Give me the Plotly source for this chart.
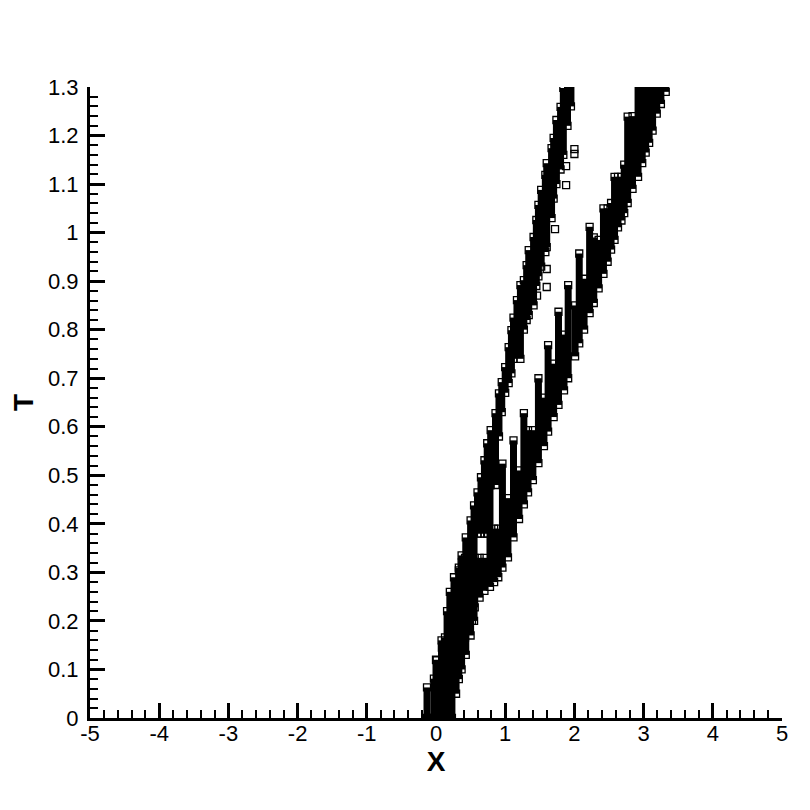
import plotly.graph_objects as go

# right band: columns of stacked points (x, lowest T, highest T)
right_x = [0.00, 0.08, 0.16, 0.20, 0.26, 0.33, 0.37, 0.42, 0.47, 0.52, 0.56, 0.63,
           0.70, 0.78, 0.84, 0.90, 0.96, 1.04, 1.12, 1.20, 1.27, 1.33, 1.40, 1.48,
           1.56, 1.62, 1.70, 1.77, 1.85, 1.91, 2.01, 2.07, 2.14, 2.22, 2.28, 2.35,
           2.42, 2.48, 2.53, 2.58, 2.63, 2.68, 2.72, 2.77, 2.84, 2.92, 2.98, 3.03,
           3.08, 3.13, 3.19, 3.25, 3.32]
right_lo = [0.0, 0.0, 0.0, 0.05, 0.077, 0.112, 0.139, 0.166, 0.18, 0.2, 0.228, 0.248,
            0.262, 0.27, 0.28, 0.29, 0.31, 0.331, 0.372, 0.41, 0.44, 0.465, 0.49, 0.525,
            0.56, 0.59, 0.62, 0.645, 0.675, 0.70, 0.745, 0.772, 0.80, 0.834, 0.855, 0.885,
            0.915, 0.94, 0.965, 0.985, 1.011, 1.025, 1.04, 1.061, 1.09, 1.115, 1.143, 1.165,
            1.185, 1.21, 1.245, 1.265, 1.29]
right_hi = [0.12, 0.16, 0.22, 0.26, 0.29, 0.31, 0.32, 0.33, 0.33, 0.33, 0.33, 0.33,
            0.33, 0.48, 0.39, 0.39, 0.524, 0.453, 0.572, 0.51, 0.628, 0.593, 0.593, 0.70,
            0.660, 0.768, 0.730, 0.837, 0.790, 0.892, 0.850, 0.957, 0.905, 1.012, 0.99, 0.985,
            1.05, 1.05, 1.061, 1.115, 1.115, 1.115, 1.14, 1.239, 1.24, 1.35, 1.35, 1.35,
            1.35, 1.35, 1.35, 1.35, 1.35]

# left band columns
left_x = [-0.13, -0.03, 0.01, 0.085, 0.13, 0.20, 0.23, 0.29, 0.33, 0.37, 0.43, 0.50,
          0.55, 0.60, 0.65, 0.70, 0.74, 0.79, 0.86, 0.91, 0.95, 1.00, 1.05, 1.09,
          1.12, 1.17, 1.22, 1.27, 1.31, 1.34, 1.41, 1.45, 1.48, 1.52, 1.58, 1.60,
          1.67, 1.70, 1.74, 1.80, 1.84, 1.90, 1.95]
left_lo = [0.0, 0.0, 0.0, 0.0, 0.0, 0.0, 0.0, 0.05, 0.08, 0.10, 0.13, 0.17,
           0.20, 0.38, 0.38, 0.38, 0.38, 0.48, 0.48, 0.58, 0.63, 0.67, 0.69, 0.71,
           0.74, 0.77, 0.74, 0.80, 0.82, 0.83, 0.85, 0.89, 0.91, 0.93, 0.96, 0.97,
           1.03, 1.07, 1.10, 1.13, 1.16, 1.22, 1.26]
left_hi = [0.063, 0.081, 0.119, 0.145, 0.166, 0.197, 0.232, 0.267, 0.304, 0.335, 0.372, 0.407,
           0.438, 0.465, 0.496, 0.531, 0.566, 0.593, 0.628, 0.669, 0.692, 0.723, 0.764, 0.799,
           0.825, 0.861, 0.892, 0.902, 0.933, 0.964, 0.991, 1.026, 1.057, 1.088, 1.119, 1.143,
           1.174, 1.195, 1.232, 1.259, 1.298, 1.35, 1.35]

# isolated points between the bands
stray_x = [2.00, 2.00, 1.88, 1.88, 1.60, 1.60, 1.46, 1.72]
stray_t = [1.172, 1.162, 1.137, 1.098, 0.925, 0.888, 0.870, 1.007]

x_ticks = [-5, -4, -3, -2, -1, 0, 1, 2, 3, 4, 5]
x_labels = ["-5", "-4", "-3", "-2", "-1", "0", "1", "2", "3", "4", "5"]
t_ticks = [0, 0.1, 0.2, 0.3, 0.4, 0.5, 0.6, 0.7, 0.8, 0.9, 1.0, 1.1, 1.2, 1.3]
t_labels = ["0", "0.1", "0.2", "0.3", "0.4", "0.5", "0.6", "0.7", "0.8", "0.9", "1", "1.1", "1.2", "1.3"]


def columns(xs, lo, hi):
    px, py = [], []
    for x, a, b in zip(xs, lo, hi):
        px += [x, x, None]
        py += [a, b, None]
    return px, py


square = dict(symbol="square-open", size=7, color="black", line=dict(width=1.3))

fig = go.Figure()
for xs, lo, hi in [(right_x, right_lo, right_hi), (left_x, left_lo, left_hi)]:
    cx, cy = columns(xs, lo, hi)
    fig.add_trace(go.Scatter(x=cx, y=cy, mode="lines",
                             line=dict(color="black", width=7),
                             hoverinfo="skip"))
    # outlined squares at both ends of each column
    fig.add_trace(go.Scatter(x=xs + xs, y=lo + hi, mode="markers", marker=square))

fig.add_trace(go.Scatter(x=stray_x, y=stray_t, mode="markers", marker=square))

axis_font = dict(family="Liberation Sans, Arial, sans-serif", size=22, color="black")
title_font = dict(family="Liberation Sans, Arial, sans-serif", size=28, color="black")

fig.update_xaxes(range=[-5, 5], tickvals=x_ticks, ticktext=x_labels,
                 ticks="inside", ticklen=15, tickwidth=2.5, tickcolor="black",
                 minor=dict(dtick=0.2, ticks="inside", ticklen=8, tickwidth=1.5, tickcolor="black"),
                 showline=True, linewidth=3, linecolor="black",
                 showgrid=False, zeroline=False, tickfont=axis_font,
                 ticklabelstandoff=-6,
                 title=dict(text="<b>X</b>", font=title_font, standoff=0))
fig.update_yaxes(range=[0, 1.3], tickvals=t_ticks, ticktext=t_labels,
                 ticks="inside", ticklen=15, tickwidth=2.5, tickcolor="black",
                 minor=dict(dtick=0.02, ticks="inside", ticklen=8, tickwidth=1.5, tickcolor="black"),
                 showline=True, linewidth=3, linecolor="black",
                 showgrid=False, zeroline=False, tickfont=axis_font,
                 ticklabelstandoff=4,
                 title=dict(text="<b>T</b>", font=title_font, standoff=8))
fig.update_layout(width=802, height=802, showlegend=False,
                  plot_bgcolor="white", paper_bgcolor="white",
                  margin=dict(l=80, r=28, t=79, b=92))
fig.write_html("out.html")
